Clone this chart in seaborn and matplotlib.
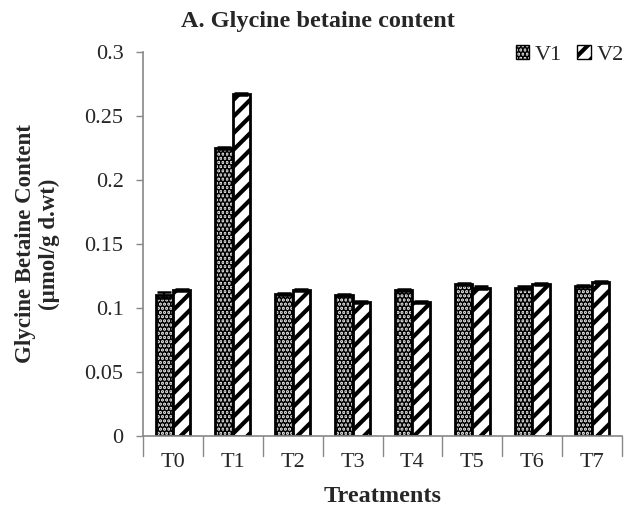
import matplotlib
matplotlib.use("Agg")
import matplotlib.pyplot as plt
from matplotlib.patches import Patch
import seaborn as sns
import pandas as pd
import numpy as np

treatments = ["T0", "T1", "T2", "T3", "T4", "T5", "T6", "T7"]
v1 = [0.110, 0.225, 0.111, 0.110, 0.114, 0.119, 0.116, 0.117]
v2 = [0.114, 0.267, 0.114, 0.105, 0.105, 0.116, 0.119, 0.120]
v1_err = [0.0025, 0.0008, 0.0008, 0.0008, 0.0008, 0.0008, 0.0008, 0.0008]
v2_err = [0.0008, 0.0008, 0.0008, 0.0008, 0.0008, 0.0008, 0.0008, 0.0008]
yticks = [0, 0.05, 0.1, 0.15, 0.2, 0.25, 0.3]
ytick_labels = ["0", "0.05", "0.1", "0.15", "0.2", "0.25", "0.3"]

sns.set_style("white")
plt.rcParams["font.family"] = ["Liberation Serif", "DejaVu Serif"]
plt.rcParams["hatch.linewidth"] = 3.0

df = pd.DataFrame({
    "Treatment": treatments * 2,
    "Value": v1 + v2,
    "Variety": ["V1"] * len(v1) + ["V2"] * len(v2),
})

W, H = 628, 508
fig = plt.figure(figsize=(W / 100, H / 100), dpi=100)
L, R, B, T = 143, 622, 436, 52
ax = fig.add_axes([L / W, 1 - B / H, (R - L) / W, (B - T) / H])

V1_FACE = "#d4d4d4"
sns.barplot(data=df, x="Treatment", y="Value", hue="Variety", ax=ax,
            order=treatments, hue_order=["V1", "V2"], width=0.58,
            palette=[V1_FACE, "white"], edgecolor="black", linewidth=2.0,
            errorbar=None, legend=False)

n = len(treatments)
patches = ax.patches[:2 * n]
for i, p in enumerate(patches):
    if i < n:
        p.set_hatch("....")
        p.set_facecolor(V1_FACE)
    else:
        p.set_hatch("//")
        p.set_facecolor("white")

for i, p in enumerate(patches):
    cx = p.get_x() + p.get_width() / 2
    h = p.get_height()
    err = v1_err[i] if i < n else v2_err[i - n]
    ax.errorbar(cx, h, yerr=err, color="black", capsize=5, elinewidth=1.5,
                capthick=1.8, fmt="none", zorder=5)

ax.set_ylim(0, 0.3)
ax.set_xlim(-0.5, n - 0.5)
ax.set_yticks(yticks)
ax.set_yticklabels(ytick_labels, fontsize=16)
ax.set_xticks(range(n))
ax.set_xticklabels(treatments, fontsize=16)
ax.tick_params(axis="x", length=0, pad=12)
ax.tick_params(axis="y", length=5, width=1, direction="out", color="#888888",
               left=True, pad=9)
for b in np.arange(-0.5, n, 1.0):
    ax.plot([b, b], [0, -0.016], color="#888888", lw=1, clip_on=False)

for s in ["top", "right"]:
    ax.spines[s].set_visible(False)
for s in ["left", "bottom"]:
    ax.spines[s].set_color("#888888")
    ax.spines[s].set_linewidth(1.2)

ax.set_xlabel("Treatments", fontsize=17.5, fontweight="bold")
ax.xaxis.set_label_coords(0.5, (B - 486) / (B - T))
ax.set_ylabel("Glycine Betaine Content\n(µmol/g d.wt)", fontsize=16.5,
              fontweight="bold", linespacing=1.2)
ax.yaxis.set_label_coords((60 - L) / (R - L), 0.5)

fig.text(318 / W, 1 - 21 / H, "A. Glycine betaine content", fontsize=17.5,
         fontweight="bold", ha="center", va="center")

handles = [Patch(facecolor=V1_FACE, edgecolor="black", hatch="....", label="V1"),
           Patch(facecolor="white", edgecolor="black", hatch="//", label="V2")]
fig.legend(handles=handles, loc="center right", bbox_to_anchor=(1.0, 1 - 55 / H),
           ncol=2, frameon=False, fontsize=16, handlelength=0.6, handleheight=0.6,
           handletextpad=0.25, columnspacing=0.7, borderpad=0.1, borderaxespad=0.1)

fig.savefig("out.png", dpi=100)
